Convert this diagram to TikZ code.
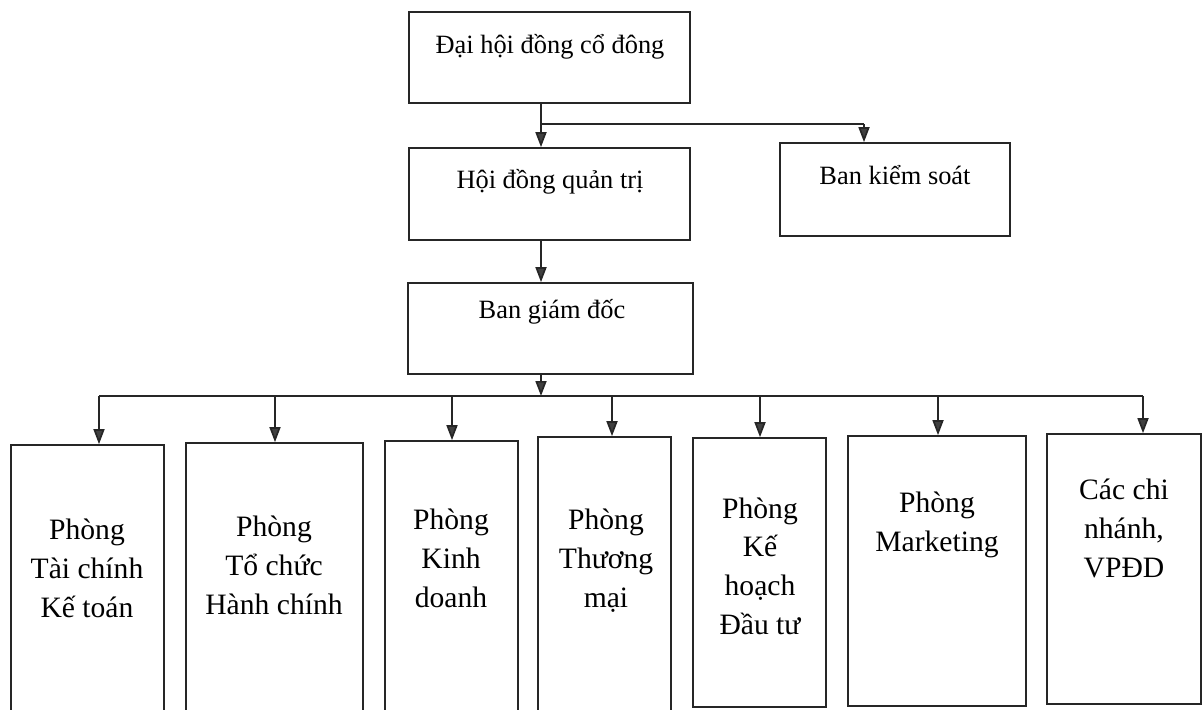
\documentclass[tikz,border=0pt]{standalone}
\usepackage{fontspec}
\setmainfont{Liberation Serif}
\usetikzlibrary{fit,arrows.meta}
\tikzset{
  box/.style={draw=black!85, line width=0.85pt, inner sep=0pt, fill=none},
  toptext/.style={font=\fontsize{13.2pt}{16pt}\selectfont, anchor=base, inner sep=0pt},
  deptext/.style={font=\fontsize{14.8pt}{19.3pt}\selectfont, anchor=base, inner sep=0pt, align=center},
  conn/.style={draw=black!85, line width=0.85pt},
  arr/.style={conn, -{Triangle[length=7.5pt, width=5.5pt, fill=black!75]}},
}
\begin{document}
\begin{tikzpicture}[x=0.5pt, y=-0.5pt]
\useasboundingbox (0,0) rectangle (1203,709);
\clip (0,0) rectangle (1203,709);
% upper boxes
\node[box, fit={(409,12) (690,103)}] (dhdcd) {};
\node[box, fit={(409,148) (690,240)}] (hdqt) {};
\node[box, fit={(780,143) (1010,236)}] (bks) {};
\node[box, fit={(408,283) (693,374)}] (bgd) {};
\node[toptext] (t-dhdcd) at (550,53) {Đại hội đồng cổ đông};
\node[toptext] (t-hdqt) at (550,188) {Hội đồng quản trị};
\node[toptext] (t-bks) at (895,184) {Ban kiểm soát};
\node[toptext] (t-bgd) at (552,318) {Ban giám đốc};
% department boxes
\node[box, fit={(11,445) (164,730)}] (d1) {};
\node[box, fit={(186,443) (363,730)}] (d2) {};
\node[box, fit={(385,441) (518,730)}] (d3) {};
\node[box, fit={(538,437) (671,730)}] (d4) {};
\node[box, fit={(693,438) (826,707)}] (d5) {};
\node[box, fit={(848,436) (1026,706)}] (d6) {};
\node[box, fit={(1047,434) (1201,704)}] (d7) {};
% base anchor = baseline of last line
\node[deptext] (t1) at (87,617) {Phòng\\Tài chính\\Kế toán};
\node[deptext] (t2) at (274,614) {Phòng\\Tổ chức\\Hành chính};
\node[deptext] (t3) at (451,607) {Phòng\\Kinh\\doanh};
\node[deptext] (t4) at (606,607) {Phòng\\Thương\\mại};
\node[deptext] (t5) at (760,634) {Phòng\\Kế\\hoạch\\Đầu tư};
\node[deptext] (t6) at (937,551) {Phòng\\Marketing};
\node[deptext] (t7) at (1124,577) {Các chi\\nhánh,\\VPĐD};
% connectors
\coordinate (j1) at (541,124);
\coordinate (j1r) at (864,124);
\draw[arr] (dhdcd.south -| j1) -- (hdqt.north -| j1);
\draw[conn] (j1) -- (j1r);
\draw[arr] (j1r) -- (bks.north -| j1r);
\draw[arr] (hdqt.south -| j1) -- (bgd.north -| j1);
\coordinate (bus) at (541,396);
\draw[arr] (bgd.south -| bus) -- (bus);
\coordinate (busl) at (99,396);
\coordinate (busr) at (1143,396);
\draw[conn] (busl) -- (busr);
\draw[arr] (busl) -- (d1.north -| busl);
\draw[arr] (275,396) -- (d2.north -| 275,0);
\draw[arr] (452,396) -- (d3.north -| 452,0);
\draw[arr] (612,396) -- (d4.north -| 612,0);
\draw[arr] (760,396) -- (d5.north -| 760,0);
\draw[arr] (938,396) -- (d6.north -| 938,0);
\draw[arr] (busr) -- (d7.north -| busr);
\end{tikzpicture}
\end{document}
